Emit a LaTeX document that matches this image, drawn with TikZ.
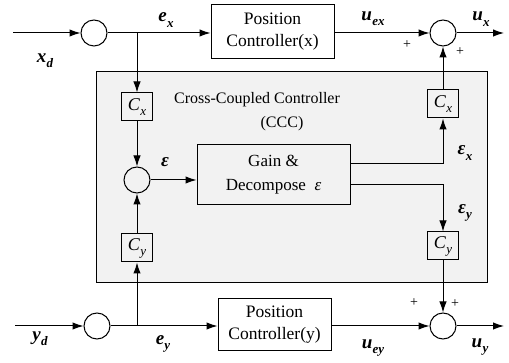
\documentclass[tikz,border=0pt]{standalone}
\usepackage{fontspec}
\setmainfont{Liberation Serif}
\usetikzlibrary{arrows.meta}
\newcommand\sv[2]{#1\kern.3pt\raisebox{-.28em}{\fontsize{13}{13}\selectfont #2}}
\begin{document}
\begin{tikzpicture}[x=1pt,y=-1pt, line width=1pt,
  >={Latex[length=11pt,width=7.5pt]},
  sumnode/.style={circle, draw, minimum size=26pt, inner sep=0pt, fill=white},
  blk/.style={draw, fill=white, align=center, inner sep=0pt, font=\fontsize{17.5}{22}\selectfont},
  cbox/.style={draw, minimum width=31pt, minimum height=28pt, inner sep=0pt, fill=gray!10, font=\fontsize{18}{18}\selectfont\itshape},
  lbl/.style={font=\fontsize{19}{20}\selectfont\bfseries\itshape, inner sep=0pt},
  plus/.style={font=\fontsize{14}{14}\selectfont, inner sep=0pt},
  ttl/.style={font=\fontsize{16}{18}\selectfont, inner sep=0pt}]
\useasboundingbox (0,0) rectangle (509,363);
% CCC background block
\node[draw, fill=gray!10, minimum width=391pt, minimum height=211pt, inner sep=0pt] (ccc) at (291.5,177.5) {};
\node[ttl] (t1) at (257,100) {Cross-Coupled Controller};
\node[ttl] (t2) at (282,124) {(CCC)};
% top row
\coordinate (xin) at (13,33);
\node[sumnode] (s1) at (94,33) {};
\coordinate (bx) at (137,33);
\node[blk, minimum width=123pt, minimum height=54pt] (pcx) at (272.5,32) {Position\\Controller(x)};
\node[sumnode] (s2) at (443,33) {};
\coordinate (xout) at (504,33);
% bottom row
\coordinate (yin) at (15,326);
\node[sumnode] (s5) at (97,326) {};
\coordinate (by) at (137,326);
\node[blk, minimum width=113pt, minimum height=52pt] (pcy) at (274.5,325) {Position\\Controller(y)};
\node[sumnode] (s4) at (443,326) {};
\coordinate (yout) at (504,326);
% CCC internals
\node[cbox] (cxl) at (137,107) {\sv{C}{x}};
\node[cbox] (cyl) at (137,248) {\sv{C}{y}};
\node[sumnode, fill=gray!10] (s3) at (137,180) {};
\node[draw, fill=gray!10, minimum width=153pt, minimum height=60pt, inner sep=0pt, align=center, font=\fontsize{17}{24}\selectfont] (gd) at (273.5,175) {Gain \&\\Decompose \ \textit{ε}};
\node[cbox] (cxr) at (443,104) {\sv{C}{x}};
\node[cbox] (cyr) at (443,246) {\sv{C}{y}};
% connectors
\draw[->] (xin) -- (s1);
\draw[->] (s1) -- (s1 -| pcx.west);
\draw[->] (bx) -- (cxl);
\draw[->] (pcx.east |- s2) -- (s2);
\draw[->] (s2) -- (xout);
\draw[->] (cxl) -- (s3);
\draw[->] (cyl) -- (s3);
\draw[->] (by) -- (cyl);
\draw[->] (s3) -- (s3 -| gd.west);
\draw[->] ([yshift=11pt]gd.east) -| (cxr);
\draw[->] (cxr) -- (s2);
\draw[->] ([yshift=-10pt]gd.east) -| (cyr);
\draw[->] (cyr) -- (s4);
\draw[->] (yin) -- (s5);
\draw[->] (s5) -- (s5 -| pcy.west);
\draw[->] (pcy.east |- s4) -- (s4);
\draw[->] (s4) -- (yout);
% labels
\node[lbl] (lxd) at (45,61) {\sv{x}{d}};
\node[lbl] (lex) at (166,20) {\sv{e}{x}};
\node[lbl] (luex) at (373,19) {\sv{u}{ex}};
\node[lbl] (lux) at (481,19) {\sv{u}{x}};
\node[plus] (p1) at (407,45) {+};
\node[plus] (p2) at (460,52) {+};
\node[lbl] (leps) at (165,162) {ε};
\node[lbl] (lepsx) at (465,153) {\sv{ε}{x}};
\node[lbl] (lepsy) at (465,213) {\sv{ε}{y}};
\node[plus] (p3) at (414,303) {+};
\node[plus] (p4) at (455,304) {+};
\node[lbl] (lyd) at (40,339) {\sv{y}{d}};
\node[lbl] (ley) at (163,344) {\sv{e}{y}};
\node[lbl] (luey) at (373,348) {\sv{u}{ey}};
\node[lbl] (luy) at (480,347) {\sv{u}{y}};
\end{tikzpicture}
\end{document}
